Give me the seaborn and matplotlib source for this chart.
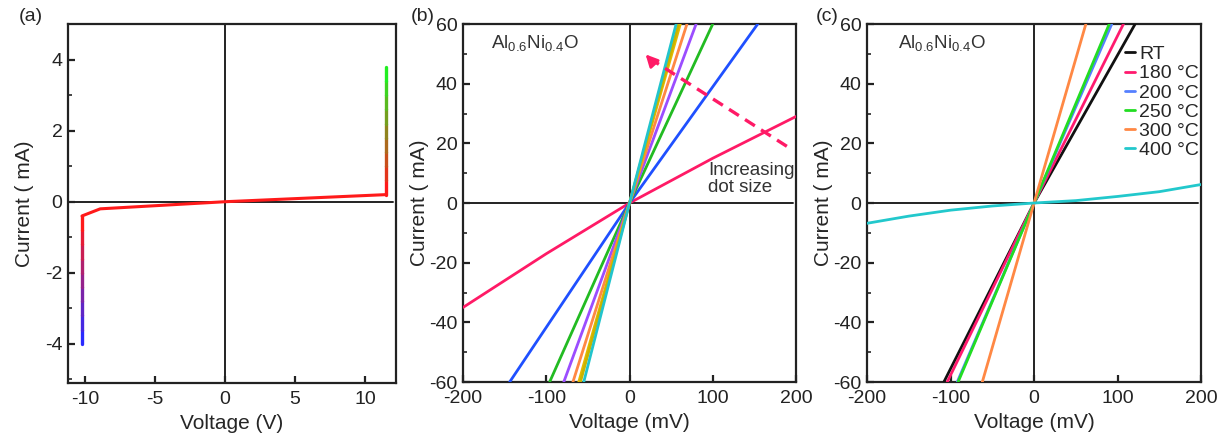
import numpy as np
import pandas as pd
import seaborn as sns
import matplotlib.pyplot as plt
from matplotlib.collections import LineCollection
from matplotlib.colors import LinearSegmentedColormap

# ---- data ----
# (a) breakdown I-V, main branch
v_a_main = [-10.2, -8.9, 0.0, 11.5]
i_a_main = [-0.4, -0.2, 0.0, 0.2]
# (a) vertical breakdown branches
v_a_neg = -10.2
i_a_neg = [-4.0, -3.6, -3.2, -2.8, -2.4, -2.0, -1.6, -1.2, -0.8, -0.4]
v_a_pos = 11.5
i_a_pos = [0.2, 0.6, 1.0, 1.4, 1.8, 2.2, 2.6, 3.0, 3.4, 3.8]

# (b) dot size series: voltage (mV) / current (mA)
b_names = ["d1", "d2", "d3", "d4", "d5", "d6", "d7", "d8"]
b_colors = ["#ff1a66", "#1f50ff", "#22bb22", "#9b4dff", "#ff8844", "#e6b800", "#c8b400", "#22c4cc"]
b_volt = [
    [-200, -100, 0, 100, 200],
    [-144, 0, 154],
    [-96, 0, 100],
    [-79, 0, 80],
    [-68, 0, 69],
    [-61, 0, 61],
    [-59, 0, 59],
    [-55, 0, 56],
]
b_curr = [
    [-35, -17, 0, 15, 29],
    [-60, 0, 60],
    [-60, 0, 60],
    [-60, 0, 60],
    [-60, 0, 60],
    [-60, 0, 60],
    [-60, 0, 60],
    [-60, 0, 60],
]

# (c) annealing temperature series
c_names = ["RT", "180 °C", "200 °C", "250 °C", "300 °C", "400 °C"]
c_colors = ["#111111", "#ff1a6e", "#5580ff", "#22dd22", "#ff8844", "#22c8cc"]
c_volt = [
    [-108, 0, 121],
    [-104, 0, 107],
    [-92, 0, 93],
    [-91, 0, 90],
    [-62, 0, 62],
    [-200, -150, -100, -50, 0, 50, 100, 150, 200],
]
c_curr = [
    [-60, 0, 60],
    [-60, 0, 60],
    [-60, 0, 60],
    [-60, 0, 60],
    [-60, 0, 60],
    [-6.8, -4.4, -2.4, -1.0, 0, 0.8, 2.2, 3.8, 6.2],
]

# ---- style ----
sns.set_theme(style="ticks")
plt.rcParams['font.family'] = ['Liberation Sans', 'DejaVu Sans']
plt.rcParams['mathtext.default'] = 'regular'
plt.rcParams['axes.unicode_minus'] = False
plt.rcParams['axes.linewidth'] = 1.6
plt.rcParams['axes.edgecolor'] = '#222222'

fig = plt.figure(figsize=(12.25, 4.34), dpi=100)
ax_a = fig.add_axes([0.0555, 0.1175, 0.2678, 0.8272])
ax_b = fig.add_axes([0.378, 0.1198, 0.2718, 0.8249])
ax_c = fig.add_axes([0.7078, 0.1198, 0.2727, 0.8249])

TICK_FS = 14
LABEL_FS = 15


def style_axes(ax):
    ax.tick_params(which='major', direction='in', length=5, width=1.6,
                   labelsize=TICK_FS, colors='#222222', pad=4)
    ax.tick_params(axis='x', which='major', pad=6)
    ax.tick_params(which='minor', direction='in', length=3, width=1.2)
    ax.axhline(0, color='#222222', lw=1.4, xmax=0.99, zorder=1)
    ax.axvline(0, color='#222222', lw=1.4, zorder=1)


# ---- (a) ----
sns.lineplot(x=v_a_main, y=i_a_main, ax=ax_a, color='#ff1a1a', lw=2.2,
             sort=False, estimator=None, zorder=3)
cmap_neg = LinearSegmentedColormap.from_list('neg', ['#2a2aff', '#ff1a1a'])
cmap_pos = LinearSegmentedColormap.from_list('pos', ['#ff1a1a', '#22ee22'])
for v, cur, cm in [(v_a_neg, i_a_neg, cmap_neg), (v_a_pos, i_a_pos, cmap_pos)]:
    pts = np.column_stack([np.full(len(cur), v), cur])
    segs = np.stack([pts[:-1], pts[1:]], axis=1)
    lc = LineCollection(segs, cmap=cm, linewidths=2.4, zorder=3, capstyle='round')
    lc.set_array(np.linspace(0, 1, len(segs)))
    ax_a.add_collection(lc)
ax_a.set_xlim(-11.2, 12.2)
ax_a.set_ylim(-5.1, 5.0)
ax_a.set_xticks([-10, -5, 0, 5, 10])
ax_a.set_yticks([-4, -2, 0, 2, 4])
ax_a.set_yticks(np.arange(-5, 6, 1), minor=True)
ax_a.set_xlabel('Voltage (V)', fontsize=LABEL_FS, labelpad=4)
ax_a.set_ylabel('Current ( mA)', fontsize=LABEL_FS, labelpad=8)
style_axes(ax_a)

# ---- (b) ----
df_b = pd.DataFrame([
    {'name': n, 'V': v, 'I': i}
    for n, vs, cs in zip(b_names, b_volt, b_curr)
    for v, i in zip(vs, cs)
])
sns.lineplot(data=df_b, x='V', y='I', hue='name', palette=b_colors,
             ax=ax_b, lw=2, sort=False, estimator=None, legend=False, zorder=3)
ax_b.plot([189, 24], [19, 48.5], ls=(0, (3.5, 2.2)), color='#ff1a66', lw=2.4, zorder=4)
ax_b.annotate('', xy=(17, 50.5), xytext=(26, 47.8),
              arrowprops=dict(arrowstyle='-|>,head_length=0.6,head_width=0.3',
                              color='#ff1a66', lw=2), zorder=4)
ax_b.text(94, 8.0, 'Increasing\ndot size', fontsize=13.5, color='#333333',
          va='center', ha='left', linespacing=1.0)
ax_b.text(-166, 53.5, r'Al$_{0.6}$Ni$_{0.4}$O', fontsize=13.5, color='#333333', va='center')

# ---- (c) ----
df_c = pd.DataFrame([
    {'name': n, 'V': v, 'I': i}
    for n, vs, cs in zip(c_names, c_volt, c_curr)
    for v, i in zip(vs, cs)
])
sns.lineplot(data=df_c, x='V', y='I', hue='name', palette=c_colors,
             hue_order=c_names, ax=ax_c, lw=2, sort=False, estimator=None, zorder=3)
handles, labels = ax_c.get_legend_handles_labels()
ax_c.legend(handles, labels, loc='upper right', bbox_to_anchor=(1.0, 0.945),
            frameon=False, fontsize=14, handlelength=0.55, handletextpad=0.2,
            labelspacing=0.08, borderaxespad=0.0, borderpad=0.1)
ax_c.text(-163, 53.5, r'Al$_{0.6}$Ni$_{0.4}$O', fontsize=13.5, color='#333333', va='center')

for ax in (ax_b, ax_c):
    ax.set_xlim(-200, 200)
    ax.set_ylim(-60, 60)
    ax.set_xticks([-200, -100, 0, 100, 200])
    ax.set_yticks([-60, -40, -20, 0, 20, 40, 60])
    ax.set_yticks(np.arange(-60, 61, 10), minor=True)
    ax.set_xlabel('Voltage (mV)', fontsize=LABEL_FS, labelpad=4)
    ax.set_ylabel('Current ( mA)', fontsize=LABEL_FS, labelpad=0)
    style_axes(ax)

# panel labels
fig.text(0.015, 0.963, '(a)', fontsize=14, va='center')
fig.text(0.335, 0.963, '(b)', fontsize=14, va='center')
fig.text(0.666, 0.963, '(c)', fontsize=14, va='center')

fig.savefig('out.png', dpi=100)
